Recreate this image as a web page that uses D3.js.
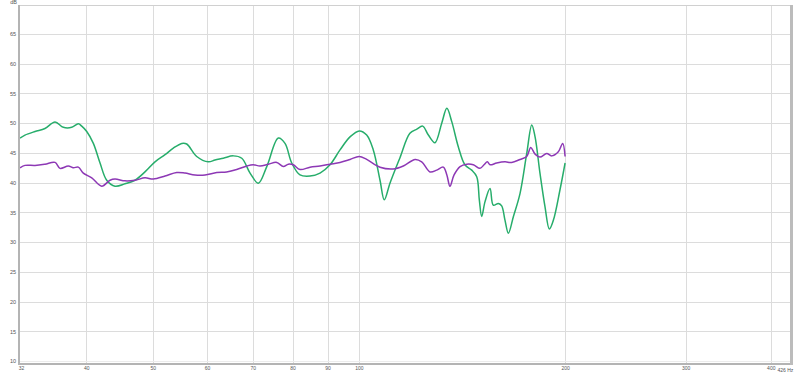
<!DOCTYPE html>
<html>
<head>
<meta charset="utf-8">
<script src="https://cdn.jsdelivr.net/npm/d3@7"></script>
<style>
  html, body { margin: 0; padding: 0; background: #fff; }
  svg { display: block; }
  text { font-family: "Liberation Sans", Arial, sans-serif; fill: #555; }
</style>
</head>
<body>
<svg id="chart" width="800" height="375"></svg>
<script>
// ---- data (frequency in Hz, level in dB) ----
const greenFreq = [32.0, 32.54, 33.66, 34.8, 36.0, 37.02, 38.08, 38.93, 39.38, 40.05, 40.95, 41.88, 42.83, 44.04, 45.55, 47.1, 48.71, 50.38, 52.11, 53.58, 55.12, 56.05, 57.97, 60.27, 61.65, 63.39, 65.56, 67.45, 69.35, 71.31, 73.36, 76.26, 78.0, 79.78, 82.03, 84.84, 87.74, 90.74, 93.84, 97.05, 100.1, 102.65, 104.95, 107.35, 108.9, 111.0, 114.8, 118.7, 121.5, 123.9, 126.3, 129.1, 132.1, 134.4, 136.6, 139.7, 142.8, 146.1, 148.6, 149.9, 151.1, 152.8, 155.4, 157.1, 159.8, 161.6, 163.4, 165.3, 168.1, 171.9, 175.8, 178.8, 180.8, 183.8, 186.9, 189.7, 192.3, 196.6, 200.0];
const greenDb = [47.5, 48.0, 48.6, 49.1, 50.2, 49.3, 49.3, 49.9, 49.5, 48.6, 46.6, 43.3, 40.4, 39.4, 39.8, 40.4, 41.8, 43.5, 44.7, 45.8, 46.6, 46.5, 44.4, 43.5, 43.8, 44.1, 44.5, 44.1, 41.6, 39.9, 42.7, 47.5, 46.6, 43.3, 41.3, 41.1, 41.6, 43.0, 45.5, 47.7, 48.7, 48.0, 45.5, 40.4, 37.1, 39.9, 44.2, 48.3, 49.0, 49.5, 48.0, 46.7, 50.0, 52.5, 50.3, 46.0, 43.0, 42.1, 41.0, 37.1, 34.3, 36.8, 39.0, 36.2, 36.5, 36.1, 33.7, 31.5, 34.3, 38.2, 44.9, 49.7, 47.7, 41.6, 36.0, 32.2, 33.7, 38.8, 43.3];

const purpleFreq = [32.0, 32.54, 33.66, 34.8, 36.0, 36.6, 37.64, 38.28, 38.93, 39.59, 40.73, 42.12, 43.31, 44.04, 45.55, 47.1, 48.71, 50.09, 52.11, 54.2, 55.73, 57.63, 59.61, 62.0, 64.1, 66.3, 68.6, 70.1, 71.72, 73.75, 75.86, 77.56, 78.86, 80.2, 82.03, 84.84, 87.74, 90.74, 93.84, 97.05, 100.1, 102.65, 107.35, 112.2, 116.1, 120.8, 123.5, 127.0, 129.9, 132.8, 134.4, 135.8, 137.7, 140.5, 143.7, 146.9, 150.2, 152.3, 154.0, 155.4, 158.9, 163.4, 167.1, 171.9, 175.8, 178.2, 180.8, 183.8, 188.0, 191.2, 195.5, 198.4, 200.0];
const purpleDb = [42.5, 42.9, 42.9, 43.1, 43.4, 42.4, 42.8, 42.5, 42.6, 41.6, 40.8, 39.4, 40.4, 40.6, 40.3, 40.4, 40.8, 40.6, 41.1, 41.7, 41.6, 41.3, 41.3, 41.7, 41.8, 42.2, 42.8, 43.0, 42.8, 43.1, 43.4, 42.7, 43.1, 43.0, 42.2, 42.6, 42.8, 43.1, 43.4, 43.9, 44.4, 43.9, 42.6, 42.3, 42.8, 43.9, 43.5, 41.8, 42.1, 42.6, 41.3, 39.4, 41.3, 42.7, 43.1, 43.0, 42.4, 43.0, 43.5, 43.0, 43.3, 43.5, 43.4, 43.9, 44.4, 45.9, 44.8, 44.3, 44.9, 44.5, 45.2, 46.6, 44.4];

const xTickValues = [32, 40, 50, 60, 70, 80, 90, 100, 200, 300, 400];
const xTickLabels = ["32", "40", "50", "60", "70", "80", "90", "100", "200", "300", "400"];
const yTickValues = [10, 15, 20, 25, 30, 35, 40, 45, 50, 55, 60, 65];
const xDomain = [32, 426];
const yDomain = [9.66, 69.71];
const greenColor = "#27ad6b";
const purpleColor = "#8d38b5";

// ---- layout ----
const L = 20, T = 6, R = 790, B = 363;
const svg = d3.select("#chart");
const x = d3.scaleLog().domain(xDomain).range([L, R]);
const y = d3.scaleLinear().domain(yDomain).range([B, T]);

// background
svg.append("rect").attr("x", L).attr("y", T).attr("width", R - L).attr("height", B - T).attr("fill", "#fff");

// grid
const grid = svg.append("g");
grid.selectAll("line.h").data(yTickValues).enter().append("line")
  .attr("x1", L).attr("x2", R)
  .attr("y1", d => Math.round(y(d)) + 0.5).attr("y2", d => Math.round(y(d)) + 0.5)
  .attr("stroke", "#dcdcdc").attr("stroke-width", 1);
grid.selectAll("line.v").data(xTickValues.filter(d => d > 32)).enter().append("line")
  .attr("x1", d => Math.round(x(d)) + 0.5).attr("x2", d => Math.round(x(d)) + 0.5)
  .attr("y1", T).attr("y2", B)
  .attr("stroke", "#dcdcdc").attr("stroke-width", 1);

// clip
svg.append("clipPath").attr("id", "clip").append("rect")
  .attr("x", L).attr("y", T).attr("width", R - L).attr("height", B - T);

const line = d3.line()
  .x(d => x(d[0])).y(d => y(d[1]))
  .curve(d3.curveCatmullRom.alpha(0.5));

const plot = svg.append("g").attr("clip-path", "url(#clip)");
plot.append("path")
  .datum(d3.zip(greenFreq, greenDb))
  .attr("d", line).attr("fill", "none")
  .attr("stroke", greenColor).attr("stroke-width", 1.5).attr("stroke-linejoin", "round");
plot.append("path")
  .datum(d3.zip(purpleFreq, purpleDb))
  .attr("d", line).attr("fill", "none")
  .attr("stroke", purpleColor).attr("stroke-width", 1.5).attr("stroke-linejoin", "round");

// frame
svg.append("line").attr("x1", L).attr("x2", R).attr("y1", T - 0.5).attr("y2", T - 0.5).attr("stroke", "#d0d0d0");
svg.append("line").attr("x1", L - 1).attr("x2", L - 1).attr("y1", T - 1).attr("y2", B + 1).attr("stroke", "#b4b4b4").attr("stroke-width", 2);
svg.append("line").attr("x1", L - 2).attr("x2", R + 2).attr("y1", B + 1).attr("y2", B + 1).attr("stroke", "#b4b4b4").attr("stroke-width", 2);
svg.append("line").attr("x1", L).attr("x2", R).attr("y1", B - 1.5).attr("y2", B - 1.5).attr("stroke", "#ececec").attr("stroke-width", 1);
svg.append("line").attr("x1", R + 1.5).attr("x2", R + 1.5).attr("y1", T - 1).attr("y2", B + 2).attr("stroke", "#bcbcbc").attr("stroke-width", 3);

// axes (labels only, via d3 axes)
const fs = 5;
const xAxis = d3.axisBottom(x).tickValues(xTickValues)
  .tickFormat((d, i) => xTickLabels[i]).tickSize(0).tickPadding(0);
const gx = svg.append("g").attr("transform", `translate(0, ${B + 3})`).call(xAxis);
gx.select(".domain").remove();
gx.selectAll("text").attr("font-size", fs).attr("fill", "#555").attr("font-family", "Liberation Sans, Arial, sans-serif");
gx.selectAll(".tick").filter(d => d === 32).select("text").attr("dx", 1);
gx.selectAll(".tick").filter(d => d === 400).select("text").attr("dx", -0.5);

svg.append("text").attr("x", 777.5).attr("y", B + 8.5).attr("text-anchor", "start")
  .attr("font-size", fs).text("426 Hz");

const yAxis = d3.axisLeft(y).tickValues(yTickValues).tickSize(0).tickPadding(3);
const gy = svg.append("g").attr("transform", `translate(${L - 1}, 0)`).call(yAxis);
gy.select(".domain").remove();
gy.selectAll("text").attr("font-size", fs + 0.5).attr("fill", "#555").attr("font-family", "Liberation Sans, Arial, sans-serif");

svg.append("text").attr("x", 17).attr("y", 4).attr("text-anchor", "end")
  .attr("font-size", fs + 0.5).text("dB");
</script>
</body>
</html>
